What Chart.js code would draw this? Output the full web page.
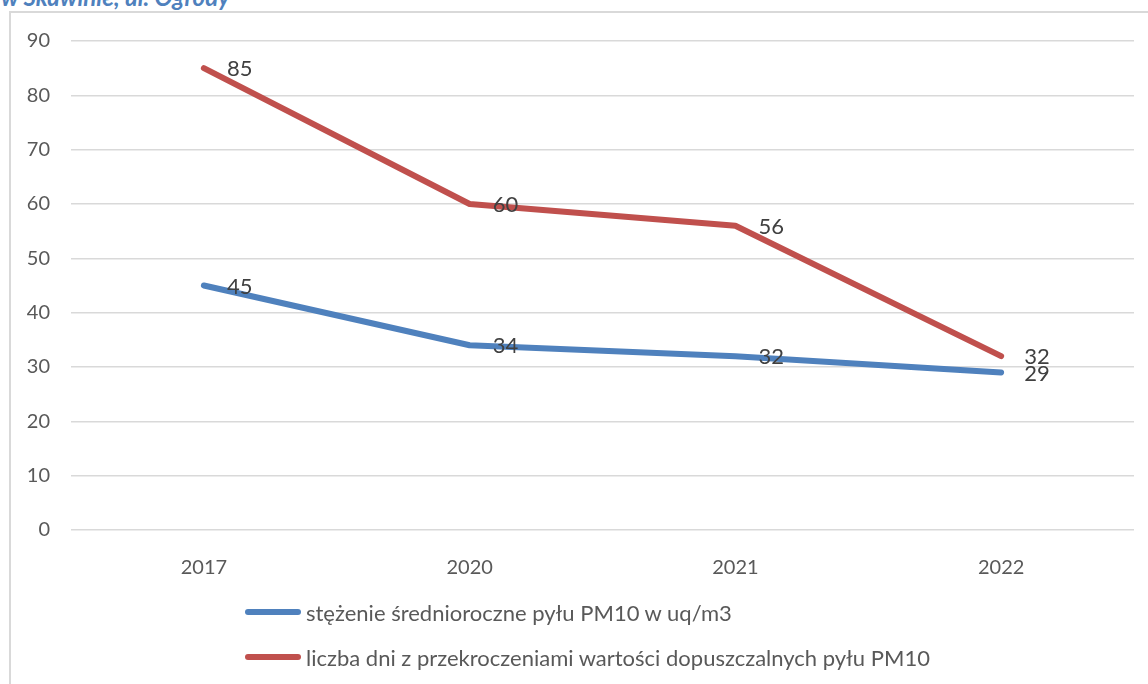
<!DOCTYPE html>
<html>
<head>
<meta charset="utf-8">
<script src="https://cdn.jsdelivr.net/npm/chart.js@4.4.1/dist/chart.umd.min.js"></script>
<style>
  html, body { margin: 0; padding: 0; background: #fff; overflow: hidden; }
  #wrap { position: relative; width: 1148px; height: 684px; }
  #frame { position: absolute; left: 9px; top: 11px; width: 1200px; height: 700px;
           border-left: 2px solid #d9d9d9; border-top: 2px solid #d9d9d9; }
  #title { position: absolute; left: 1px; top: -15px; font: italic bold 24px Lato, sans-serif;
           color: #4F81BD; white-space: nowrap; line-height: 24px; }
  #chart { position: absolute; left: 0; top: 0; }
  #legend { position: absolute; left: 245px; top: 598px; font: 22px Lato, sans-serif; color: #595959; }
  .item { display: flex; align-items: center; height: 28px; margin-bottom: 17px; }
  .swatch { width: 56px; height: 6px; border-radius: 3px; margin-right: 5px; }
</style>
</head>
<body>
<div id="wrap">
  <div id="frame"></div>
  <div id="title">w Skawinie, ul. Ogrody</div>
  <canvas id="chart" width="1148" height="684"></canvas>
  <div id="legend"></div>
</div>
<script>
const years = ['2017', '2020', '2021', '2022'];
const avgConcentration = [45, 34, 32, 29];
const exceedanceDays = [85, 60, 56, 32];
const seriesNames = [
  'stężenie średnioroczne pyłu PM10 w uq/m3',
  'liczba dni z przekroczeniami wartości dopuszczalnych pyłu PM10'
];
const seriesColors = ['#4F81BD', '#C0504D'];

// value labels to the right of each point (Excel "right" placement)
const valueLabels = {
  id: 'valueLabels',
  afterDatasetsDraw(chart) {
    const ctx = chart.ctx;
    ctx.save();
    ctx.font = '22px Lato, sans-serif';
    ctx.fillStyle = '#404040';
    ctx.textAlign = 'left';
    ctx.textBaseline = 'middle';
    chart.data.datasets.forEach((ds, i) => {
      chart.getDatasetMeta(i).data.forEach((pt, j) => {
        ctx.fillText(String(ds.data[j]), pt.x + 23, pt.y + 1);
      });
    });
    ctx.restore();
  }
};

const ctx = document.getElementById('chart').getContext('2d');
new Chart(ctx, {
  type: 'line',
  data: {
    labels: years,
    datasets: [
      { label: seriesNames[0], data: avgConcentration, borderColor: seriesColors[0], backgroundColor: seriesColors[0] },
      { label: seriesNames[1], data: exceedanceDays, borderColor: seriesColors[1], backgroundColor: seriesColors[1] }
    ]
  },
  options: {
    responsive: false,
    animation: false,
    elements: {
      line: { borderWidth: 6, borderCapStyle: 'round', borderJoinStyle: 'round', tension: 0 },
      point: { radius: 0, hoverRadius: 0 }
    },
    layout: { padding: { top: 41, right: 14, bottom: 0, left: 0 } },
    plugins: {
      legend: { display: false },
      tooltip: { enabled: false }
    },
    scales: {
      x: {
        offset: true,
        grid: { display: false },
        border: { display: false },
        ticks: { color: '#595959', font: { family: 'Lato', size: 20 }, padding: 18 },
        afterFit(scale) { scale.height = 154; }
      },
      y: {
        min: 0,
        max: 90,
        grid: { color: '#d9d9d9', lineWidth: 1.5, drawTicks: false },
        border: { display: false },
        ticks: { stepSize: 10, color: '#595959', font: { family: 'Lato', size: 20 }, padding: 21 },
        afterFit(scale) { scale.width = 71; }
      }
    }
  },
  plugins: [valueLabels]
});

// legend laid out like the original: stacked rows, left aligned
const legend = document.getElementById('legend');
seriesNames.forEach((name, i) => {
  const row = document.createElement('div');
  row.className = 'item';
  const sw = document.createElement('span');
  sw.className = 'swatch';
  sw.style.background = seriesColors[i];
  const tx = document.createElement('span');
  tx.textContent = name;
  row.appendChild(sw);
  row.appendChild(tx);
  legend.appendChild(row);
});
</script>
</body>
</html>
